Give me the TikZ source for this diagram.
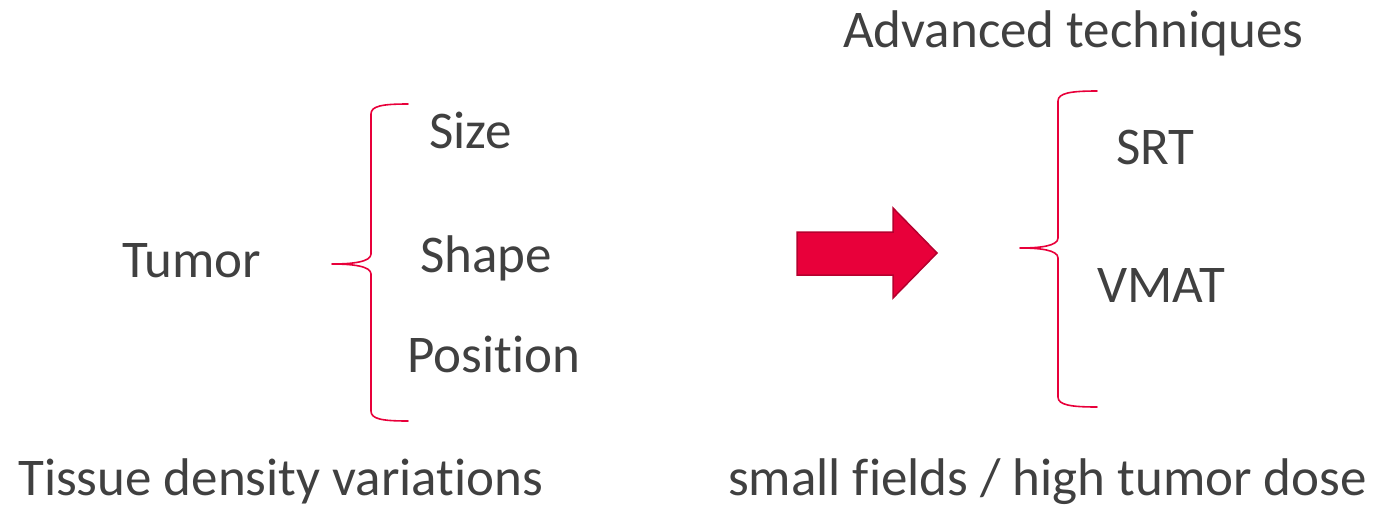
\documentclass[tikz,border=0pt]{standalone}
\usepackage{fontspec}
\setmainfont{Carlito}[Ligatures={NoCommon}]
\definecolor{txt}{HTML}{404040}
\definecolor{bracered}{HTML}{E8003A}
\definecolor{arrowfill}{HTML}{E8003A}
\definecolor{arrowline}{HTML}{B5002E}
\tikzset{
  lbl/.style={anchor=base west, inner sep=0pt, text=txt, font=\fontsize{53}{60}\selectfont},
  bracepath/.style={draw=bracered, line width=1.6pt, line cap=round, line join=round},
  bigarrow/.style={fill=arrowfill, draw=arrowline, line width=1.5pt, line join=miter}
}
\begin{document}
\begin{tikzpicture}[x=1pt,y=-1pt]
\useasboundingbox (0,0) rectangle (1376,507);
% labels
\node[lbl] (tumor) at (122,277) {Tumor};
\node[lbl] (size) at (429,148) {Size};
\node[lbl] (shape) at (420,272) {Shape};
\node[lbl] (position) at (407,372) {Position};
\node[lbl] (adv) at (843,47) {Advanced techniques};
\node[lbl] (srt) at (1116,164) {SRT};
\node[lbl] (vmat) at (1097,302) {VMAT};
\node[lbl] (tissue) at (18,495) {Tissue density variations};
\node[lbl] (small) at (728,495) {small fields / high tumor dose};
% left brace
\coordinate (lbtop) at (408,104);
\coordinate (lbtip) at (332,264);
\coordinate (lbbot) at (408,421);
\draw[bracepath] (lbtop) .. controls (382,104) and (371,106) .. (371,114)
  -- (371,254) .. controls (371,262) and (352,264) .. (lbtip)
  .. controls (352,264) and (371,266) .. (371,274)
  -- (371,411) .. controls (371,419) and (382,421) .. (lbbot);
% right brace
\coordinate (rbtop) at (1097,91);
\coordinate (rbtip) at (1020,248);
\coordinate (rbbot) at (1097,407);
\draw[bracepath] (rbtop) .. controls (1071,91) and (1058,93) .. (1058,101)
  -- (1058,238) .. controls (1058,246) and (1040,248) .. (rbtip)
  .. controls (1040,248) and (1058,250) .. (1058,258)
  -- (1058,397) .. controls (1058,405) and (1071,407) .. (rbbot);
% block arrow
\draw[bigarrow] (797,232) -- (893,232) -- (893,208) -- (937,253) -- (893,298) -- (893,275) -- (797,275) -- cycle;
\end{tikzpicture}
\end{document}
